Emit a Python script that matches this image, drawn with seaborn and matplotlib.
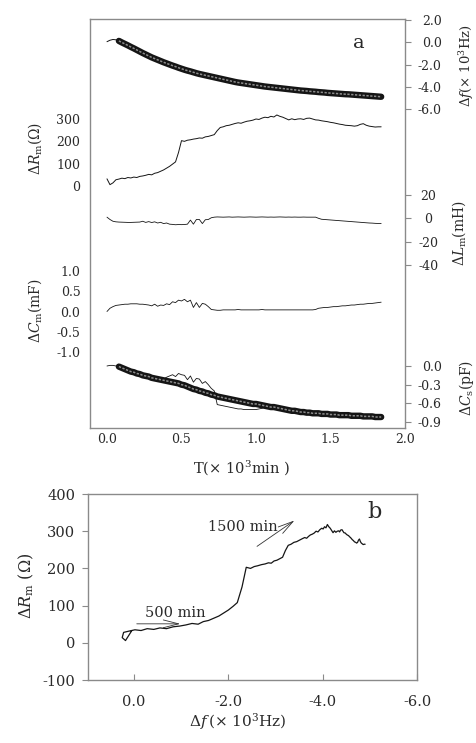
import matplotlib as mpl
import matplotlib.pyplot as plt
import seaborn as sns
import numpy as np

# time grid (x 10^3 min), 0.02 steps
T = np.round(np.arange(0, 1.85, 0.02), 2)

# frequency shift (x 10^3 Hz)
df = [0.05, 0.18, 0.25, 0.22, 0.12, -0.02, -0.15, -0.28, -0.42, -0.55,
      -0.69, -0.83, -0.97, -1.10, -1.23, -1.36, -1.47, -1.58, -1.69, -1.80,
      -1.90, -2.00, -2.10, -2.19, -2.29, -2.38, -2.47, -2.55, -2.62, -2.70,
      -2.78, -2.85, -2.91, -2.97, -3.03, -3.09, -3.15, -3.21, -3.27, -3.33,
      -3.39, -3.45, -3.51, -3.57, -3.62, -3.66, -3.70, -3.74, -3.78, -3.82,
      -3.86, -3.90, -3.94, -3.98, -4.01, -4.04, -4.07, -4.10, -4.13, -4.16,
      -4.19, -4.22, -4.25, -4.28, -4.31, -4.34, -4.36, -4.38, -4.41, -4.43,
      -4.45, -4.48, -4.50, -4.52, -4.55, -4.57, -4.59, -4.61, -4.63, -4.65,
      -4.67, -4.68, -4.70, -4.72, -4.74, -4.76, -4.78, -4.80, -4.82, -4.84,
      -4.86, -4.88, -4.90]

# motional resistance shift (Ohm)
Rm = [32, 6, 14, 28, 31, 35, 33, 38, 36, 40,
      38, 43, 45, 48, 52, 50, 57, 60, 66, 72,
      80, 88, 98, 108, 150, 203, 200, 205, 207, 210,
      212, 215, 214, 220, 222, 226, 230, 248, 262, 265,
      270, 272, 276, 280, 283, 281, 286, 290, 292, 295,
      300, 298, 304, 308, 306, 312, 309, 318, 312, 308,
      302, 296, 301, 297, 300, 301, 298, 303, 304, 300,
      296, 295, 292, 290, 288, 285, 283, 280, 277, 275,
      272, 271, 270, 268, 270, 276, 279, 272, 268, 266,
      264, 265, 265]

# motional inductance shift (mH)
Lm = [1.0, -1.0, -2.5, -3.0, -3.2, -3.3, -3.4, -3.5, -3.5, -3.4,
      -3.3, -3.2, -2.5, -3.5, -2.8, -3.6, -3.0, -4.0, -3.4, -4.5,
      -4.0, -5.0, -5.2, -5.5, -5.3, -5.4, -5.3, -5.0, -1.5, -5.0,
      -1.0, -1.0, -4.5, -1.2, -1.0, 0.5, 1.0, 1.2, 1.1, 1.0,
      1.1, 1.2, 1.0, 1.1, 1.2, 1.1, 1.0, 1.1, 1.2, 1.1,
      1.0, 1.1, 1.2, 1.1, 1.0, 1.1, 1.0, 1.1, 1.2, 1.1,
      1.0, 1.1, 1.0, 1.1, 1.0, 1.0, 1.1, 1.0, 1.0, 1.0,
      1.0, 0.0, -0.8, -1.0, -1.2, -1.4, -1.6, -1.8, -2.0, -2.2,
      -2.4, -2.6, -2.8, -3.0, -3.2, -3.4, -3.6, -3.8, -4.0, -4.1,
      -4.3, -4.4, -4.5]

# motional capacitance shift (mF)
Cm = [0.00, 0.08, 0.12, 0.15, 0.16, 0.17, 0.18, 0.18, 0.19, 0.19,
      0.19, 0.18, 0.18, 0.17, 0.16, 0.14, 0.18, 0.13, 0.16, 0.15,
      0.19, 0.17, 0.24, 0.22, 0.28, 0.26, 0.30, 0.24, 0.28, 0.10,
      0.22, 0.10, 0.20, 0.18, 0.12, 0.05, 0.04, 0.03, 0.03, 0.04,
      0.04, 0.04, 0.04, 0.04, 0.05, 0.04, 0.04, 0.04, 0.04, 0.04,
      0.04, 0.04, 0.05, 0.04, 0.04, 0.04, 0.04, 0.04, 0.04, 0.04,
      0.04, 0.04, 0.04, 0.04, 0.04, 0.04, 0.04, 0.04, 0.04, 0.04,
      0.05, 0.08, 0.09, 0.10, 0.10, 0.11, 0.12, 0.12, 0.13, 0.14,
      0.14, 0.15, 0.16, 0.16, 0.17, 0.18, 0.18, 0.19, 0.20, 0.20,
      0.21, 0.22, 0.23]

# static capacitance shift (pF): fitted band and measured trace
Cs_fit = [0.00, 0.01, 0.00, 0.00, -0.01, -0.03, -0.05, -0.07, -0.09, -0.10,
          -0.12, -0.13, -0.15, -0.16, -0.17, -0.19, -0.20, -0.21, -0.22, -0.23,
          -0.24, -0.25, -0.26, -0.27, -0.28, -0.30, -0.31, -0.33, -0.35, -0.37,
          -0.38, -0.40, -0.41, -0.43, -0.44, -0.46, -0.47, -0.49, -0.50, -0.51,
          -0.52, -0.53, -0.54, -0.55, -0.56, -0.57, -0.58, -0.59, -0.60, -0.61,
          -0.61, -0.62, -0.63, -0.64, -0.65, -0.66, -0.66, -0.67, -0.68, -0.69,
          -0.70, -0.71, -0.72, -0.72, -0.73, -0.74, -0.74, -0.75, -0.75, -0.76,
          -0.76, -0.76, -0.77, -0.77, -0.77, -0.78, -0.78, -0.78, -0.79, -0.79,
          -0.79, -0.79, -0.80, -0.80, -0.80, -0.80, -0.81, -0.81, -0.81, -0.81,
          -0.82, -0.82, -0.82]
Cs = [0.00, 0.01, 0.01, 0.00, -0.01, -0.03, -0.05, -0.07, -0.09, -0.10,
      -0.12, -0.13, -0.15, -0.16, -0.17, -0.19, -0.20, -0.21, -0.22, -0.21,
      -0.18, -0.16, -0.14, -0.17, -0.12, -0.14, -0.15, -0.22, -0.16, -0.26,
      -0.20, -0.21, -0.28, -0.25, -0.30, -0.36, -0.40, -0.62, -0.63, -0.64,
      -0.65, -0.66, -0.67, -0.68, -0.69, -0.69, -0.70, -0.70, -0.70, -0.70,
      -0.70, -0.69, -0.68, -0.66, -0.65, -0.66, -0.66, -0.67, -0.68, -0.69,
      -0.70, -0.71, -0.72, -0.72, -0.73, -0.74, -0.74, -0.75, -0.75, -0.76,
      -0.76, -0.76, -0.77, -0.77, -0.77, -0.78, -0.78, -0.78, -0.79, -0.79,
      -0.79, -0.79, -0.80, -0.80, -0.80, -0.80, -0.81, -0.81, -0.81, -0.81,
      -0.82, -0.82, -0.82]

x_ticks_a = [0.0, 0.5, 1.0, 1.5, 2.0]
x_ticks_b = [0.0, -2.0, -4.0, -6.0]
y_ticks_b = [-100, 0, 100, 200, 300, 400]

sns.set_style("white")
plt.rcParams['font.family'] = ['DejaVu Serif']
plt.rcParams['mathtext.fontset'] = 'dejavuserif'

W, H = 476, 743
SPINE = '#8a8a8a'
INK = '#151515'
TXT = '#2a2a2a'

fig = plt.figure(figsize=(W / 100, H / 100), dpi=100)


def px_axes(x0, y0, x1, y1):
    return fig.add_axes([x0 / W, 1 - y1 / H, (x1 - x0) / W, (y1 - y0) / H])


def set_ylim_px(ax, v1, p1, v2, p2, top, bot):
    s = (v2 - v1) / (p2 - p1)
    ax.set_ylim(v1 + (bot - p1) * s, v1 + (top - p1) * s)


def band(ax, x, y):
    # dense open-circle band drawn as dark stroke with a light dotted core
    sns.lineplot(x=x, y=y, ax=ax, color=INK, lw=4.6, estimator=None, sort=False,
                 solid_capstyle='round', clip_on=False)
    sns.lineplot(x=x, y=y, ax=ax, color='#8c8c8c', lw=1.1, estimator=None, sort=False,
                 linestyle=(0, (1.5, 1.0)), clip_on=False)


def thin(ax, x, y, lw=0.7):
    sns.lineplot(x=x, y=y, ax=ax, color=INK, lw=lw, estimator=None, sort=False, clip_on=False)


# ---------------- panel a ----------------
AX0, AX1, AY0, AY1 = 90, 405, 19, 428
XLIM_A = (-0.114, 2.0)

frame = px_axes(AX0, AY0, AX1, AY1)
frame.set_xlim(*XLIM_A)
frame.set_xticks(x_ticks_a)
frame.set_xticklabels([f"{t:.1f}" for t in x_ticks_a])
frame.set_yticks([])
for sp in frame.spines.values():
    sp.set_color(SPINE)
    sp.set_linewidth(1.0)
frame.tick_params(axis='x', direction='in', length=4, color=SPINE, labelsize=9,
                  labelcolor=TXT, pad=3.5)


def sub_axes(top, bot, side, ticks, labels, ref, pad, ha=None):
    ax = px_axes(AX0, top, AX1, bot)
    ax.patch.set_visible(False)
    for sp in ax.spines.values():
        sp.set_visible(False)
    ax.set_xlim(*XLIM_A)
    ax.set_xticks([])
    set_ylim_px(ax, *ref, top, bot)
    if side == 'right':
        ax.yaxis.tick_right()
    ax.set_yticks(ticks)
    ax.set_yticklabels(labels)
    ax.tick_params(axis='y', direction='out', length=4, color=SPINE, labelsize=9,
                   labelcolor=TXT, pad=pad)
    if ha:
        for lb in ax.get_yticklabels():
            lb.set_horizontalalignment(ha)
    ax.set_xlabel('')
    ax.set_ylabel('')
    return ax


f_ticks = [2.0, 0.0, -2.0, -4.0, -6.0]
ax_f = sub_axes(19, 112, 'right', f_ticks, [f"{v:.1f}" for v in f_ticks],
                (2.0, 20, -6.0, 109), 22.3, 'right')
thin(ax_f, T[:6], df[:6])
band(ax_f, T[4:], df[4:])

r_ticks = [0, 100, 200, 300]
ax_r = sub_axes(110, 196, 'left', r_ticks, [str(v) for v in r_ticks],
                (300, 119, 0, 186), 2.9)
thin(ax_r, T, Rm)

l_ticks = [20, 0, -20, -40]
ax_l = sub_axes(190, 270, 'right', l_ticks, [str(v) for v in l_ticks],
                (20, 195, -40, 265), 13.0, 'center')
thin(ax_l, T, Lm, lw=0.6)

c_ticks = [1.0, 0.5, 0.0, -0.5, -1.0]
ax_c = sub_axes(265, 356, 'left', c_ticks, [f"{v:.1f}" for v in c_ticks],
                (1.0, 271, -1.0, 352), 2.9)
thin(ax_c, T, Cm, lw=0.6)

s_ticks = [0.0, -0.3, -0.6, -0.9]
ax_s = sub_axes(360, 428, 'right', s_ticks, [f"{v:.1f}" for v in s_ticks],
                (0.0, 366, -0.9, 422), 22.3, 'right')
thin(ax_s, T, Cs, lw=0.6)
band(ax_s, T[4:], Cs_fit[4:])


def ftext(x, y, s, **kw):
    fig.text(x / W, 1 - y / H, s, ha='center', va='center', color=TXT, **kw)


ftext(359, 43, 'a', fontsize=14)
ftext(467, 66, r'Δ$f$(× 10$^3$Hz)', fontsize=9.5, rotation=90)
ftext(35, 148, r'Δ$R_{\rm m}$(Ω)', fontsize=10, rotation=90)
ftext(459, 233, r'Δ$L_{\rm m}$(mH)', fontsize=10, rotation=90)
ftext(35, 311, r'Δ$C_{\rm m}$(mF)', fontsize=10, rotation=90)
ftext(467, 388, r'Δ$C_{\rm s}$(pF)', fontsize=10, rotation=90)
ftext(242, 468, r'T(× 10$^3$min )', fontsize=10.5)

# ---------------- panel b ----------------
bx = px_axes(88, 494, 417, 680)
thin(bx, df, Rm, lw=0.9)
bx.set_xlim(0.975, -6.0)
bx.set_ylim(-100, 400)
bx.set_xticks(x_ticks_b)
bx.set_xticklabels([f"{v:.1f}" for v in x_ticks_b])
bx.set_yticks(y_ticks_b)
bx.set_yticklabels([str(v) for v in y_ticks_b])
for sp in bx.spines.values():
    sp.set_color(SPINE)
    sp.set_linewidth(1.0)
bx.tick_params(axis='x', direction='in', length=4, color=SPINE, labelsize=10.5,
               labelcolor=TXT, pad=10.5, bottom=True)
bx.tick_params(axis='y', direction='out', length=4, color=SPINE, labelsize=10.5,
               labelcolor=TXT, pad=5, left=True)
bx.set_xlabel('')
bx.set_ylabel('')

arrow = dict(arrowstyle='->,head_length=1.1,head_width=0.28', color='#333333', lw=0.6)
bx.annotate('', xy=(-1.04, 51), xytext=(0.0, 51), arrowprops=arrow)
bx.annotate('', xy=(-3.45, 333), xytext=(-2.56, 255), arrowprops=arrow)
bx.text(-0.87, 80, '500 min', ha='center', va='center', fontsize=10.5, color=TXT)
bx.text(-2.31, 312, '1500 min', ha='center', va='center', fontsize=10.5, color=TXT)

ftext(375, 512, 'b', fontsize=16)
ftext(26, 586, r'Δ$R_{\rm m}$ (Ω)', fontsize=11.5, rotation=90)
ftext(238, 722, r'Δ$f\,$(× 10$^3$Hz)', fontsize=11)

fig.savefig('out.png', dpi=100)
